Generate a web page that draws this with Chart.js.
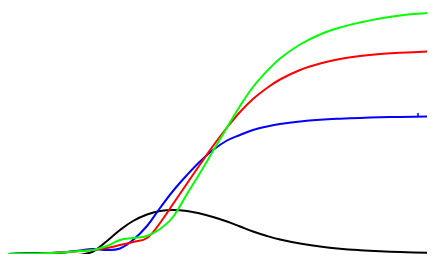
<!DOCTYPE html>
<html>
<head>
<meta charset="utf-8">
<script src="https://cdn.jsdelivr.net/npm/chart.js@4"></script>
<style>
  html, body { margin: 0; padding: 0; background: #fff; }
  #wrap { width: 436px; height: 270px; }
</style>
</head>
<body>
<div id="wrap"><canvas id="chart"></canvas></div>
<script>
// x positions shared by all four curves
const xs = [0, 25, 42, 59, 72, 85, 99, 112, 125, 139, 152, 165, 179, 192, 205, 219, 232, 245, 259, 272, 292, 312, 332, 352, 372, 392, 419];

const green = [0, 0.5, 1, 2, 3, 4, 8, 14, 16, 18, 25, 37, 60, 81, 103, 126.5, 148, 167, 183, 195.5, 209.5, 219.5, 226.5, 231.5, 235.5, 238.5, 241];
const red = [0, 0, 1, 2, 3, 4, 6, 9, 12, 16, 31, 50, 70.5, 89.5, 108, 126.5, 142, 155, 166, 174.5, 184, 190.5, 195, 198, 200, 201.2, 202.5];
const blue = [0, 0.5, 1, 2, 3.5, 5, 4, 5.5, 14, 28, 46, 63, 79, 92.5, 104, 113.5, 119, 124, 127.5, 130, 132.5, 134.2, 135.3, 136.1, 136.7, 137.1, 137.5];
const black = [0, 1, 0.8, -0.8, -0.8, 2.5, 13, 24, 33, 39.5, 43, 44, 43, 40.5, 37, 32.5, 27.5, 22.5, 18, 14.5, 10.5, 7.5, 5.3, 3.8, 2.7, 1.9, 1.2];

// little vertical tick on the blue line near the right end
const tickX = [410, 410];
const tickY = [137.5, 141];

function pts(ys) {
    return ys.map((y, i) => ({x: xs[i], y: y}))
}

function line(data, color) {
    return {
        data: pts(data),
        borderColor: color,
        borderWidth: 2,
        pointRadius: 0,
        fill: false,
        tension: 0.4
    }
}

const ctx = document.querySelector('#chart').getContext('2d');

new Chart(ctx, {
    type: 'line',
    data: {
        datasets: [
            line(green, '#00ff00'),
            line(red, '#ff0000'),
            line(blue, '#0000ff'),
            line(black, '#000000'),
            {
                data: tickX.map((x, i) => ({x: x, y: tickY[i]})),
                borderColor: '#0000ff',
                borderWidth: 1.5,
                pointRadius: 0,
                fill: false
            }
        ]
    },
    options: {
        responsive: true,
        maintainAspectRatio: false,
        animation: false,
        layout: { padding: { left: 8, right: 9, top: 0, bottom: 16 } },
        plugins: { legend: { display: false }, tooltip: { enabled: false } },
        scales: {
            x: { type: 'linear', min: 0, max: 419, display: false },
            y: { min: 0, max: 254, display: false }
        }
    }
});
</script>
</body>
</html>
